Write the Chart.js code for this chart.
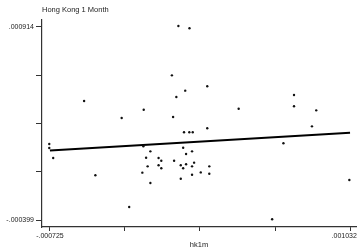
<!DOCTYPE html>
<html>
<head>
<meta charset="utf-8">
<script src="https://cdn.jsdelivr.net/npm/chart.js@4.4.0/dist/chart.umd.min.js"></script>
<style>
  body { margin: 0; background: #fff; }
  #wrap { width: 360px; height: 251px; }
</style>
</head>
<body>
<div id="wrap"><canvas id="scatterChart"></canvas></div>
<script>
// hk1m (x) vs Hong Kong 1 Month (y)
const hk1m = [
  0.000027, 0.000092, -0.000011, 0.000067, 0.000196, 0.000015, -0.000176, -0.000305,
  -0.000004, -0.000525, 0.000704, 0.000380, 0.000704, 0.000834, -0.000729, -0.000729,
  -0.000706, -0.000459, -0.000261, 0.000576, 0.001028, 0.000642, 0.000809, 0.000060,
  0.000091, 0.000111, 0.000196, -0.000178, 0.000055, -0.000137, 0.000107, 0.000072,
  -0.000162, -0.000089, -0.000073, 0.000002, 0.000119, -0.000153, -0.000089, -0.000073,
  0.000041, 0.000072, 0.000055, 0.000107, 0.000208, -0.000184, 0.000158, 0.000107,
  0.000208, 0.000041, -0.000137
];
const hongKong1Month = [
  0.000921, 0.000905, 0.000585, 0.000481, 0.000511, 0.000438, 0.000351, 0.000295,
  0.000302, 0.000411, 0.000451, 0.000358, 0.000375, 0.000347, 0.000118, 0.000091,
  0.000023, -0.000095, -0.000311, -0.000394, -0.000127, 0.000123, 0.000238, 0.000198,
  0.000198, 0.000198, 0.000225, 0.000102, 0.000093, 0.000068, 0.000068, 0.000050,
  0.000025, 0.000023, 0.000004, 0.000004, -0.000009, -0.000034, -0.000027, -0.000047,
  -0.000027, -0.000020, -0.000047, -0.000034, -0.000034, -0.000077, -0.000075, -0.000091,
  -0.000084, -0.000118, -0.000147
];

// fitted line end points
const fitX = [-0.000725, 0.001032];
const fitY = [0.0000738, 0.000195];

const xTicks = [-0.000725, -0.00028575, 0.0001535, 0.00059275, 0.001032];
const xTickLabels = ["-.000725", "", "", "", ".001032\u00a0\u00a0\u00a0\u00a0\u00a0\u00a0"];
const yTicks = [-0.000399, -0.00007075, 0.0002575, 0.00058575, 0.000914];
const yTickLabels = ["-.000399", "", "", "", ".000914"];

const points = hk1m.map((x, i) => ({ x: x, y: hongKong1Month[i] }));
const fitLine = fitX.map((x, i) => ({ x: x, y: fitY[i] }));

const tickFont = { family: "'Liberation Sans', Arial, sans-serif", size: 7 };
const axisColor = "#333";

new Chart(document.getElementById("scatterChart"), {
  type: "scatter",
  data: {
    datasets: [
      {
        data: points,
        backgroundColor: "#111",
        borderWidth: 0,
        pointRadius: 1.2,
      },
      {
        type: "line",
        data: fitLine,
        borderColor: "#000",
        borderWidth: 2,
        pointRadius: 0,
        fill: false,
      },
    ],
  },
  options: {
    responsive: true,
    maintainAspectRatio: false,
    animation: false,
    layout: { padding: { top: 0, right: 2, left: 0, bottom: 0 } },
    plugins: {
      legend: { display: false },
      tooltip: { enabled: false },
      title: {
        display: true,
        text: "Hong Kong 1 Month",
        align: "start",
        fullSize: false,
        color: "#222",
        font: { family: "'Liberation Sans', Arial, sans-serif", size: 7.5, weight: "normal" },
        padding: { top: 5.5, bottom: 5.5 },
      },
    },
    scales: {
      x: {
        type: "linear",
        min: -0.0007715,
        max: 0.0010669,
        afterBuildTicks: (scale) => {
          scale.ticks = xTicks.map((v) => ({ value: v }));
        },
        afterFit: (scale) => {
          scale.height = 24;
          scale.paddingLeft = 0;
          scale.paddingRight = 0;
        },
        grid: { drawOnChartArea: false, drawTicks: true, tickLength: 4, color: axisColor },
        border: { display: true, color: axisColor, width: 1.2 },
        ticks: {
          autoSkip: false,
          maxRotation: 0,
          padding: 1,
          color: "#222",
          font: tickFont,
          callback: (value, index) => xTickLabels[index],
        },
        title: {
          display: true,
          text: "hk1m",
          color: "#222",
          font: { family: "'Liberation Sans', Arial, sans-serif", size: 7.5 },
          padding: { top: 0, bottom: 2 },
        },
      },
      y: {
        type: "linear",
        min: -0.0004466,
        max: 0.0009616,
        afterBuildTicks: (scale) => {
          scale.ticks = yTicks.map((v) => ({ value: v }));
        },
        afterFit: (scale) => {
          scale.width = 42;
          scale.paddingTop = 0;
          scale.paddingBottom = 0;
        },
        grid: { drawOnChartArea: false, drawTicks: true, tickLength: 6, color: axisColor },
        border: { display: true, color: axisColor, width: 1.2 },
        ticks: {
          autoSkip: false,
          padding: 2,
          color: "#222",
          font: tickFont,
          callback: (value, index) => yTickLabels[index],
        },
      },
    },
  },
});
</script>
</body>
</html>
